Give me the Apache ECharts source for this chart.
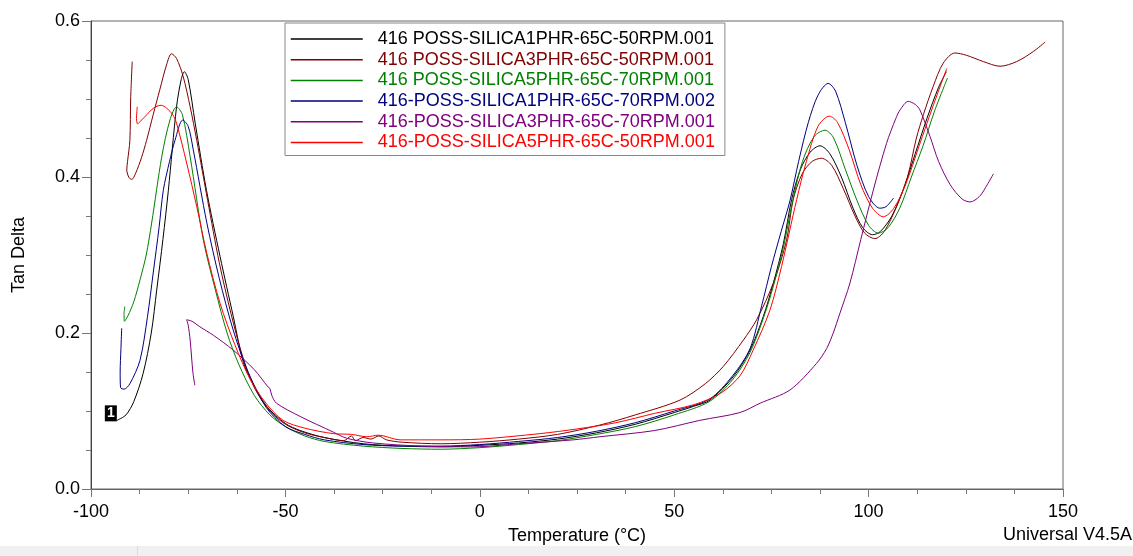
<!DOCTYPE html>
<html>
<head>
<meta charset="utf-8">
<script src="https://cdn.jsdelivr.net/npm/echarts@6/dist/echarts.min.js"></script>
<style>
html,body{margin:0;padding:0;background:#fff;}
#chart{width:1133px;height:556px;}
</style>
</head>
<body>
<div id="chart"></div>
<script>
// ---- Data (Temperature °C, Tan Delta) ----
const seriesNames = [
  "416 POSS-SILICA1PHR-65C-50RPM.001",
  "416 POSS-SILICA3PHR-65C-50RPM.001",
  "416 POSS-SILICA5PHR-65C-70RPM.001",
  "416-POSS-SILICA1PHR-65C-70RPM.002",
  "416-POSS-SILICA3PHR-65C-70RPM.001",
  "416-POSS-SILICA5PHR-65C-50RPM.001"
];
const seriesColors = ["#000000", "#800000", "#008000", "#000080", "#800080", "#ff0000"];

const silica1_50 = [[-93.3,0.088],[-91,0.095],[-89,0.112],[-86.6,0.148],[-84.5,0.2],[-83.1,0.255],[-81.5,0.32],[-80.1,0.383],[-78,0.49],[-76.8,0.525],[-76,0.535],[-75,0.525],[-73.2,0.469],[-70.3,0.383],[-66.8,0.298],[-63.4,0.221],[-60.8,0.162],[-58.3,0.135],[-54.8,0.106],[-50,0.084],[-46.2,0.075],[-40,0.066],[-30,0.058],[-20,0.055],[-10,0.054],[0,0.056],[10,0.059],[20,0.064],[30,0.072],[40,0.083],[50,0.098],[55,0.106],[59.2,0.114],[65.2,0.144],[69.5,0.178],[72.9,0.221],[75.5,0.264],[78.1,0.315],[80.2,0.371],[82.5,0.41],[85,0.432],[87.5,0.44],[90,0.43],[93,0.4],[96,0.36],[98.5,0.335],[101,0.326],[103,0.33],[106,0.35],[109,0.385],[112,0.43],[115,0.475],[118,0.515],[120,0.535]];

const silica3_50 = [[-89.4,0.548],[-89.8,0.5],[-90,0.447],[-90.6,0.42],[-90.8,0.409],[-90.2,0.399],[-89.5,0.397],[-88.5,0.405],[-87,0.425],[-85.7,0.447],[-84,0.48],[-82.3,0.512],[-80.5,0.545],[-79.3,0.558],[-78,0.552],[-76.3,0.529],[-74.5,0.49],[-72.8,0.447],[-70,0.37],[-67,0.29],[-64,0.225],[-61,0.17],[-58,0.13],[-54,0.1],[-50,0.083],[-45,0.072],[-40,0.066],[-35,0.062],[-33,0.068],[-32,0.062],[-30,0.066],[-28,0.064],[-26,0.068],[-24,0.063],[-20,0.06],[-10,0.058],[0,0.06],[10,0.064],[20,0.07],[30.9,0.082],[40,0.095],[51.5,0.114],[58,0.135],[62.6,0.157],[67.8,0.191],[71.2,0.217],[75.5,0.264],[78.9,0.319],[80.6,0.371],[83,0.405],[85.5,0.42],[87.9,0.424],[90.5,0.415],[93.5,0.385],[96.5,0.35],[99,0.328],[101.6,0.321],[104,0.33],[107,0.36],[110,0.4],[112.3,0.45],[114.1,0.48],[116.6,0.516],[119.2,0.546],[122.2,0.559],[125.2,0.556],[129.5,0.548],[133.8,0.542],[138.1,0.548],[142.4,0.561],[145.4,0.573]];

const silica5_70 = [[-91.3,0.234],[-91.5,0.225],[-91.4,0.215],[-90.5,0.222],[-89,0.24],[-87.4,0.268],[-85.8,0.3],[-84.4,0.341],[-81.8,0.426],[-79.7,0.473],[-78,0.49],[-76.5,0.48],[-74.5,0.426],[-71.1,0.319],[-68,0.255],[-65,0.2],[-62,0.16],[-58,0.12],[-54,0.095],[-50,0.08],[-45,0.068],[-40,0.061],[-30,0.055],[-20,0.052],[-10,0.051],[0,0.053],[10,0.057],[20,0.062],[30,0.07],[40,0.08],[50,0.095],[59,0.112],[65,0.14],[69.5,0.175],[73,0.22],[75.5,0.26],[78.1,0.31],[80.5,0.37],[83,0.42],[86,0.452],[88.8,0.46],[91,0.45],[94,0.41],[97,0.37],[100,0.338],[102.5,0.328],[105,0.335],[108,0.36],[111,0.4],[114,0.44],[117,0.485],[120.3,0.527]];

const silica1_70 = [[-92.1,0.206],[-92.3,0.18],[-92.5,0.15],[-92.4,0.13],[-91.5,0.128],[-90,0.135],[-87.4,0.165],[-85.5,0.22],[-84,0.277],[-82.5,0.335],[-81.4,0.383],[-79.8,0.42],[-78.4,0.447],[-76.4,0.473],[-75,0.465],[-73.7,0.435],[-70.2,0.341],[-67,0.27],[-63.5,0.205],[-60,0.155],[-55,0.105],[-50,0.08],[-45,0.07],[-40,0.063],[-30,0.057],[-20,0.055],[-10,0.055],[0,0.057],[10,0.061],[20,0.066],[30,0.074],[40,0.085],[50,0.1],[59,0.115],[65,0.145],[69.5,0.18],[72.5,0.235],[75,0.285],[77.5,0.33],[79.8,0.37],[82,0.42],[84.5,0.47],[87,0.505],[89.6,0.52],[91.5,0.51],[94,0.47],[97,0.415],[100,0.375],[102.9,0.36],[104.5,0.362],[106.4,0.373]];

const silica3_70 = [[-73.3,0.133],[-73.8,0.15],[-74.5,0.191],[-75,0.21],[-75.4,0.217],[-74,0.215],[-72,0.208],[-68.5,0.197],[-63.4,0.178],[-58,0.153],[-54.5,0.131],[-54,0.129],[-53.5,0.12],[-52.3,0.11],[-46.2,0.093],[-37.7,0.073],[-34.2,0.065],[-27.4,0.059],[-15,0.055],[-1.7,0.054],[10,0.058],[24,0.063],[30.9,0.067],[45,0.075],[56.6,0.088],[66.9,0.098],[72.1,0.11],[79.8,0.127],[86.6,0.161],[89.2,0.18],[90.9,0.2],[92.6,0.225],[95.2,0.264],[98,0.32],[101.2,0.383],[104.6,0.443],[107,0.475],[108.1,0.486],[110.2,0.497],[112,0.493],[113.2,0.486],[115.8,0.452],[118,0.42],[121,0.39],[124,0.372],[126.1,0.368],[128.5,0.375],[130.5,0.39],[132.1,0.404]];

const silica5_50 = [[-88.1,0.49],[-88.3,0.475],[-88,0.468],[-87.4,0.471],[-86,0.478],[-84,0.488],[-82,0.492],[-80.5,0.488],[-79,0.48],[-78,0.469],[-75.4,0.418],[-72.8,0.362],[-70.2,0.302],[-66.8,0.238],[-63,0.185],[-59,0.14],[-55,0.11],[-50.6,0.088],[-45,0.078],[-37.7,0.071],[-33,0.07],[-29.1,0.067],[-26,0.069],[-20.5,0.063],[-10,0.063],[0,0.064],[15.5,0.071],[25,0.077],[35,0.085],[45,0.097],[55,0.108],[62,0.123],[66.9,0.145],[70.3,0.178],[74.6,0.229],[77.6,0.285],[81.5,0.371],[84,0.42],[87,0.465],[89.9,0.478],[92,0.47],[95,0.435],[98,0.39],[101,0.36],[103.8,0.349],[106.5,0.36],[109.5,0.39],[113,0.44],[116.5,0.49],[120.1,0.539]];

const seriesData = [silica1_50, silica3_50, silica5_70, silica1_70, silica3_70, silica5_50];

const xTicks = [-100, -50, 0, 50, 100, 150];
const yTicks = [0.0, 0.2, 0.4, 0.6];
const runMarker = [[-94.9, 0.097]];

// ---- Chart ----
const FONT = '"Liberation Sans", Arial, sans-serif';
const chart = echarts.init(document.getElementById('chart'), null, {renderer: 'canvas'});

const series = seriesNames.map((name, i) => {
  const s = {
    name: name,
    type: 'line',
    data: seriesData[i],
    symbol: 'none',
    smooth: 0.3,
    lineStyle: {color: seriesColors[i], width: 1},
    itemStyle: {color: seriesColors[i]},
    z: 3
  };
  if (i === 0) {
    s.markPoint = {
      symbol: 'rect',
      symbolSize: [12, 16],
      itemStyle: {color: '#000'},
      label: {show: true, position: 'inside', formatter: '1', color: '#fff', fontSize: 14, fontWeight: 'bold', fontFamily: FONT},
      data: runMarker.map(c => ({coord: c}))
    };
  }
  return s;
});

const option = {
  animation: false,
  backgroundColor: '#ffffff',
  grid: {left: 91, right: 70, top: 21, bottom: 67, show: true, borderColor: '#666', borderWidth: 1, backgroundColor: 'transparent'},
  legend: {
    orient: 'vertical',
    left: 285, top: 23,
    padding: [6, 10, 3, 5],
    itemGap: 0.7,
    itemWidth: 72,
    itemHeight: 14,
    borderColor: '#888',
    borderWidth: 1,
    backgroundColor: '#fff',
    selectedMode: false,
    itemStyle: {opacity: 0},
    lineStyle: {width: 1.5},
    textStyle: {fontSize: 18, lineHeight: 20, fontFamily: FONT, padding: [0, 0, 0, 10]},
    data: seriesNames.map((n, i) => ({name: n, textStyle: {color: seriesColors[i]}}))
  },
  xAxis: {
    type: 'value',
    min: xTicks[0], max: xTicks[xTicks.length - 1], interval: 50,
    name: 'Temperature (°C)',
    nameLocation: 'middle',
    nameGap: 38,
    nameTextStyle: {fontSize: 18, color: '#000', fontFamily: FONT},
    axisLine: {show: true, onZero: false, lineStyle: {color: '#666', width: 1}},
    axisTick: {show: true, length: 8, lineStyle: {color: '#777'}},
    minorTick: {show: true, splitNumber: 4, length: 5, lineStyle: {color: '#777'}},
    splitLine: {show: false},
    axisLabel: {fontSize: 18, color: '#000', fontFamily: FONT, margin: 14, formatter: v => String(v)}
  },
  yAxis: {
    type: 'value',
    min: yTicks[0], max: yTicks[yTicks.length - 1], interval: 0.2,
    name: 'Tan Delta',
    nameLocation: 'middle',
    nameGap: 63,
    nameRotate: 90,
    nameTextStyle: {fontSize: 18, color: '#000', fontFamily: FONT},
    axisLine: {show: true, onZero: false, lineStyle: {color: '#444', width: 1}},
    axisTick: {show: true, length: 9, lineStyle: {color: '#777'}},
    minorTick: {show: true, splitNumber: 4, length: 5, lineStyle: {color: '#777'}},
    splitLine: {show: false},
    axisLabel: {fontSize: 18, color: '#000', fontFamily: FONT, margin: 11, formatter: v => v.toFixed(1)}
  },
  graphic: [
    {type: 'text', right: 1, top: 526, style: {text: 'Universal V4.5A', fontSize: 18, fill: '#000', fontFamily: FONT}},
    {type: 'rect', left: 0, top: 546, shape: {width: 1133, height: 10}, style: {fill: '#f0f0f0'}},
    {type: 'rect', left: 137, top: 546, shape: {width: 1, height: 10}, style: {fill: '#dcdcdc'}}
  ],
  series: series
};
chart.setOption(option);
</script>
</body>
</html>
